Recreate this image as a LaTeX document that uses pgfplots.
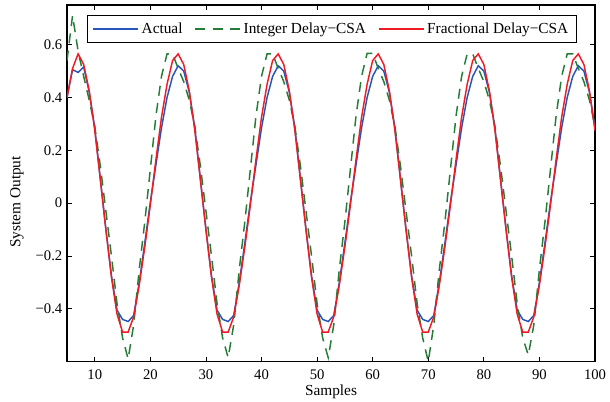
\documentclass[border=0pt]{standalone}
\usepackage{fontspec}
\setmainfont{Liberation Serif}
\usepackage{pgfplots}
\pgfplotsset{compat=1.18}
\definecolor{cactual}{RGB}{40,85,185}
\definecolor{cint}{RGB}{35,125,55}
\definecolor{cfrac}{RGB}{238,28,36}
\begin{document}
\begin{tikzpicture}
\begin{axis}[
  name=ax,
  scale only axis,
  width=396pt, height=267.5pt,
  xmin=5, xmax=100, ymin=-0.6, ymax=0.75,
  axis line style={line width=0.8pt},
  every tick/.style={black, line width=0.6pt},
  tick align=inside,
  major tick length=3.75pt,
  xtick={10,20,30,40,50,60,70,80,90,100},
  xticklabels={10,20,30,40,50,60,70,80,90,100},
  ytick={-0.4,-0.2,0,0.2,0.4,0.6},
  yticklabels={−0.4,−0.2,0,0.2,0.4,0.6},
  tick label style={font=\fontsize{11}{13}\selectfont},
  xticklabel style={yshift=-2.2pt},
  xlabel={Samples},
  ylabel={System Output},
  label style={font=\fontsize{11.5}{13.5}\selectfont},
  xlabel style={at={(axis description cs:0.5,-0.0841)}, anchor=center},
  ylabel style={at={(axis description cs:-0.0947,0.448)}, anchor=center},
  legend columns=3,
  legend style={
    at={(axis description cs:0.0373,0.972)}, anchor=north west,
    draw=black, line width=0.8pt,
    font=\fontsize{11.5}{13.5}\selectfont,
    inner xsep=4pt, inner ysep=3.3pt,
    nodes={inner sep=2pt},
    /tikz/every even column/.append style={column sep=7pt},
  },
  legend image code/.code={\draw[#1] (0pt,0pt) -- (33.75pt,0pt);},
]
\addplot[cactual, line width=1.1pt] coordinates {
(5,0.40) (6,0.505) (7,0.495) (8,0.515) (9,0.42) (10,0.285) (11,0.09) (12,-0.10) (13,-0.275) (14,-0.405) (15,-0.44)
(16,-0.448) (17,-0.425) (18,-0.30) (19,-0.15) (20,0.005) (21,0.145) (22,0.285) (23,0.40) (24,0.48) (25,0.52) (26,0.50) (27,0.42) (28,0.285) (29,0.09) (30,-0.10) (31,-0.275) (32,-0.405) (33,-0.44)
(34,-0.448) (35,-0.425) (36,-0.30) (37,-0.15) (38,0.005) (39,0.145) (40,0.285) (41,0.40) (42,0.48) (43,0.52) (44,0.50) (45,0.42) (46,0.285) (47,0.09) (48,-0.10) (49,-0.275) (50,-0.405) (51,-0.44)
(52,-0.448) (53,-0.425) (54,-0.30) (55,-0.15) (56,0.005) (57,0.145) (58,0.285) (59,0.40) (60,0.48) (61,0.52) (62,0.50) (63,0.42) (64,0.285) (65,0.09) (66,-0.10) (67,-0.275) (68,-0.405) (69,-0.44)
(70,-0.448) (71,-0.425) (72,-0.30) (73,-0.15) (74,0.005) (75,0.145) (76,0.285) (77,0.40) (78,0.48) (79,0.52) (80,0.50) (81,0.42) (82,0.285) (83,0.09) (84,-0.10) (85,-0.275) (86,-0.405) (87,-0.44)
(88,-0.448) (89,-0.425) (90,-0.30) (91,-0.15) (92,0.005) (93,0.145) (94,0.285) (95,0.40) (96,0.48) (97,0.52) (98,0.50) (99,0.42) (100,0.285)
};
\addlegendentry{Actual}
\addplot[cint, line width=1.1pt, dash pattern=on 7.5pt off 5.5pt] coordinates {
(5,0.54) (6,0.71) (7,0.575) (8,0.48) (9,0.39) (10,0.29) (11,0.14) (12,-0.03) (13,-0.20) (14,-0.38) (15,-0.51)
(16,-0.59) (17,-0.46) (18,-0.25) (19,-0.07) (20,0.13) (21,0.33) (22,0.48) (23,0.565) (24,0.565) (25,0.51) (26,0.46) (27,0.39) (28,0.29) (29,0.14) (30,-0.03) (31,-0.20) (32,-0.38) (33,-0.51)
(34,-0.585) (35,-0.46) (36,-0.25) (37,-0.07) (38,0.13) (39,0.33) (40,0.48) (41,0.565) (42,0.565) (43,0.51) (44,0.46) (45,0.39) (46,0.29) (47,0.14) (48,-0.03) (49,-0.20) (50,-0.38) (51,-0.51)
(52,-0.585) (53,-0.46) (54,-0.25) (55,-0.07) (56,0.13) (57,0.33) (58,0.48) (59,0.567) (60,0.567) (61,0.51) (62,0.46) (63,0.39) (64,0.29) (65,0.14) (66,-0.03) (67,-0.20) (68,-0.38) (69,-0.51)
(70,-0.60) (71,-0.46) (72,-0.25) (73,-0.07) (74,0.13) (75,0.33) (76,0.48) (77,0.565) (78,0.565) (79,0.51) (80,0.46) (81,0.39) (82,0.29) (83,0.14) (84,-0.03) (85,-0.20) (86,-0.38) (87,-0.51)
(88,-0.575) (89,-0.46) (90,-0.25) (91,-0.07) (92,0.13) (93,0.33) (94,0.48) (95,0.565) (96,0.565) (97,0.51) (98,0.46) (99,0.39) (100,0.29)
};
\addlegendentry{Integer Delay−CSA}
\addplot[cfrac, line width=1.1pt] coordinates {
(5,0.40) (6,0.51) (7,0.565) (8,0.525) (9,0.425) (10,0.275) (11,0.09) (12,-0.10) (13,-0.28) (14,-0.42) (15,-0.488)
(16,-0.488) (17,-0.43) (18,-0.31) (19,-0.165) (20,-0.005) (21,0.165) (22,0.325) (23,0.45) (24,0.54) (25,0.565) (26,0.525) (27,0.425) (28,0.275) (29,0.09) (30,-0.10) (31,-0.28) (32,-0.42) (33,-0.488)
(34,-0.488) (35,-0.43) (36,-0.31) (37,-0.165) (38,-0.005) (39,0.165) (40,0.325) (41,0.45) (42,0.54) (43,0.565) (44,0.525) (45,0.425) (46,0.275) (47,0.09) (48,-0.10) (49,-0.28) (50,-0.42) (51,-0.488)
(52,-0.488) (53,-0.43) (54,-0.31) (55,-0.165) (56,-0.005) (57,0.165) (58,0.325) (59,0.45) (60,0.54) (61,0.565) (62,0.525) (63,0.425) (64,0.275) (65,0.09) (66,-0.10) (67,-0.28) (68,-0.42) (69,-0.488)
(70,-0.488) (71,-0.43) (72,-0.31) (73,-0.165) (74,-0.005) (75,0.165) (76,0.325) (77,0.45) (78,0.54) (79,0.565) (80,0.525) (81,0.425) (82,0.275) (83,0.09) (84,-0.10) (85,-0.28) (86,-0.42) (87,-0.488)
(88,-0.488) (89,-0.43) (90,-0.31) (91,-0.165) (92,-0.005) (93,0.165) (94,0.325) (95,0.45) (96,0.54) (97,0.565) (98,0.525) (99,0.425) (100,0.275)
};
\addlegendentry{Fractional Delay−CSA}
\end{axis}
\pgfresetboundingbox
\path[use as bounding box] ([xshift=-50.25pt,yshift=-30.2pt]ax.south west) rectangle ([xshift=11.25pt,yshift=3.75pt]ax.north east);
\end{tikzpicture}
\end{document}
